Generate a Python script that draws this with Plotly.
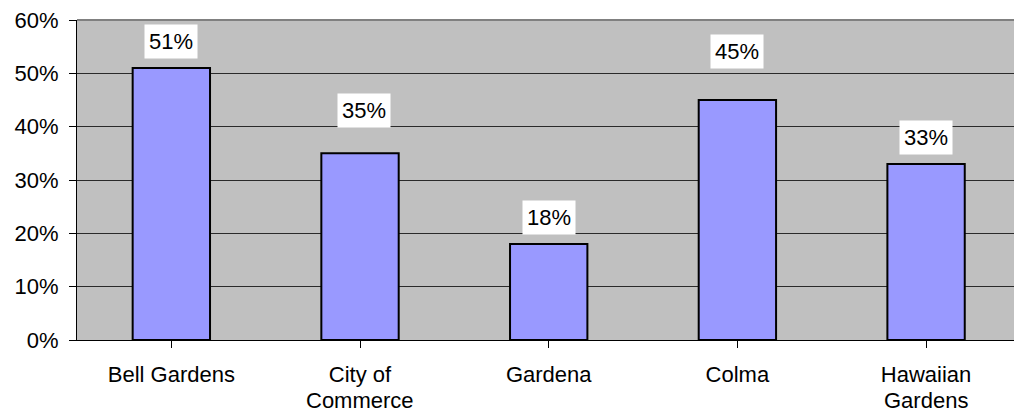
import plotly.graph_objects as go

# Share of residents per city
cities = ["Bell Gardens", "City of<br>Commerce", "Gardena", "Colma", "Hawaiian<br>Gardens"]
shares = [0.51, 0.35, 0.18, 0.45, 0.33]
y_ticks = [0, 0.1, 0.2, 0.3, 0.4, 0.5, 0.6]

# Vertical offset (px) of each value label above its bar, and small horizontal nudges
label_lift = [27, 43, 27, 49, 27]
label_nudge = [0, 4, 0, 0, 0]

FONT = "Liberation Sans, Arial, sans-serif"
SIZE = 22

fig = go.Figure()
fig.add_trace(go.Bar(
    x=list(range(len(cities))),
    y=shares,
    width=0.41,
    marker=dict(color="#9999FF", line=dict(color="#000000", width=2)),
    hoverinfo="skip",
))

for i, (v, lift, nudge) in enumerate(zip(shares, label_lift, label_nudge)):
    fig.add_annotation(
        x=i, y=v, xref="x", yref="y",
        text=f"{round(v * 100)}%",
        showarrow=False,
        yanchor="middle", xanchor="center",
        yshift=lift, xshift=nudge,
        font=dict(family=FONT, size=SIZE, color="#000000"),
        bgcolor="#FFFFFF", borderpad=4,
    )

# Category names: first line as tick label, second line (if any) set with tighter spacing
first_lines = [c.split("<br>")[0] for c in cities]
for i, c in enumerate(cities):
    parts = c.split("<br>")
    if len(parts) > 1:
        fig.add_annotation(
            x=i, y=0, xref="x", yref="y",
            text=parts[1], showarrow=False,
            yanchor="middle", xanchor="center", yshift=-60,
            font=dict(family=FONT, size=SIZE, color="#000000"),
        )

# Plot area top border
fig.add_shape(type="line", xref="paper", yref="paper", x0=0, x1=1, y0=1, y1=1,
              line=dict(color="#808080", width=2))

fig.update_layout(
    width=1014, height=412,
    margin=dict(l=77, r=0, t=20, b=72, autoexpand=False),
    paper_bgcolor="#FFFFFF",
    plot_bgcolor="#C0C0C0",
    showlegend=False,
    font=dict(family=FONT, size=SIZE, color="#000000"),
)

fig.update_xaxes(
    range=[-0.5, 4.466],
    tickmode="array",
    tickvals=list(range(len(cities))),
    ticktext=first_lines,
    tickson="boundaries",
    ticks="outside", ticklen=7, tickcolor="#000000", tickwidth=1,
    showline=True, linecolor="#000000", linewidth=1,
    showgrid=False, zeroline=False,
    automargin=False,
    ticklabelstandoff=8,
    tickfont=dict(family=FONT, size=SIZE, color="#000000"),
)

fig.update_yaxes(
    range=[0, 0.6],
    tickmode="array",
    tickvals=y_ticks,
    tickformat=".0%",
    ticks="outside", ticklen=7, tickcolor="#000000", tickwidth=1,
    showline=True, linecolor="#000000", linewidth=1,
    showgrid=True, gridcolor="#2a2a2a", gridwidth=1,
    zeroline=False,
    automargin=False,
    ticklabelstandoff=6,
    tickfont=dict(family=FONT, size=SIZE, color="#000000"),
)

fig.write_html("out.html")
